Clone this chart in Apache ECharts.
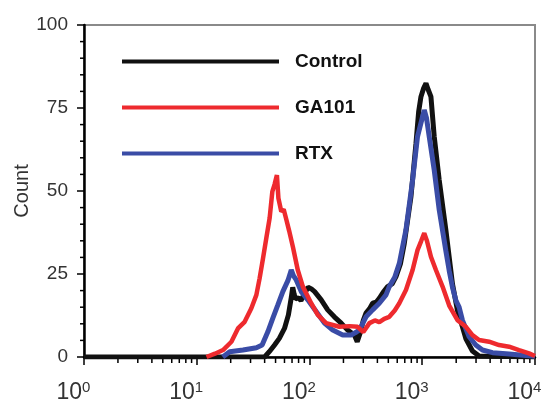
<!DOCTYPE html>
<html>
<head>
<meta charset="utf-8">
<script src="https://cdn.jsdelivr.net/npm/echarts@6/dist/echarts.min.js"></script>
<style>
html,body{margin:0;padding:0;background:#fff;}
#c{width:545px;height:408px;}
</style>
</head>
<body>
<div id="c"></div>
<script>
// ---- data ----
const seriesNames = ['Control', 'GA101', 'RTX'];

const controlX = [1, 40, 44, 49, 54, 60, 65, 69, 71, 73, 75, 80, 84, 90, 97, 104, 111, 127, 145, 166, 191, 218, 250, 265, 280, 300, 317, 340, 363, 390, 416, 450, 493, 540, 585, 640, 693, 794, 880, 930, 974, 1030, 1079, 1130, 1194, 1277, 1414, 1619, 1734, 1854, 2053, 2275, 2439, 2787, 3192, 10000];
const controlY = [0, 0, 1.6, 3.6, 5.6, 8.6, 12.7, 18, 21, 19, 17.5, 17.8, 17, 19, 21, 20.5, 19.7, 17.2, 14.2, 12.1, 10.2, 8.1, 6.6, 4.6, 7, 11, 13.2, 14.5, 16.2, 16.5, 17.7, 19.5, 21.2, 22, 24.2, 28, 34.2, 48.3, 64.4, 74, 78.4, 81, 82.4, 80.5, 78.4, 66.4, 53.3, 38.3, 30, 22, 14, 9, 5.5, 1.8, 0.3, 0];

const ga101X = [12.2, 14.5, 17.1, 20.3, 23.2, 26.6, 30.5, 33.8, 36.1, 38.7, 41.4, 44.3, 46.8, 49, 51.4, 53, 56.2, 59, 62.2, 66, 71.2, 78.7, 87.3, 103.5, 118.4, 140.5, 184, 226, 267, 300, 340, 380, 416, 460, 510, 570, 626, 717, 821, 908, 980, 1042, 1100, 1194, 1322, 1514, 1734, 2053, 2439, 2787, 3192, 3914, 4800, 5890, 7215, 8850, 10000];
const ga101Y = [0, 1, 2.1, 4.6, 8.6, 10.6, 14.7, 18.7, 23.7, 29.7, 35.8, 41.8, 49.8, 52, 54.8, 47.8, 43.8, 44.5, 41.5, 38, 33.2, 26.2, 21.2, 16.2, 12.7, 10.2, 9.1, 9.3, 9.1, 7.5, 10.2, 11, 10.5, 11.5, 12.1, 14, 16.2, 20.2, 26.2, 32.2, 35, 37.3, 35, 30.2, 26.2, 21.2, 15.5, 11.1, 9.1, 6.6, 5.1, 4.6, 3.6, 3.1, 2.1, 1.1, 0.3];

const rtxX = [17, 19.6, 25.7, 33.8, 38, 42.7, 47.3, 52.4, 58, 64.3, 68.9, 72, 76.3, 84.5, 96.6, 114.6, 135.8, 160.8, 197, 234, 277, 317, 363, 416, 477, 510, 570, 626, 717, 821, 908, 1000, 1042, 1090, 1153, 1277, 1414, 1619, 1734, 1854, 1990, 2123, 2275, 2606, 2985, 3420, 4200, 5900, 7800, 10000];
const rtxY = [0, 1.6, 2.1, 2.8, 3.6, 7.6, 11.7, 15.7, 19.7, 23, 26.2, 24.5, 23.2, 19.7, 17.2, 13.7, 10.2, 8.1, 6.6, 6.6, 8.1, 12.1, 14.2, 16.2, 18.7, 21.2, 24, 28.2, 38.3, 53.3, 66.4, 72, 74.4, 72, 66.4, 56.3, 44.3, 32, 26, 21, 17, 15, 11, 6.1, 3.6, 2.1, 1.3, 0.9, 0.5, 0.2];

// minor tick positions (axis values)
const yMinorTicks = [];
for (let v = 5; v < 100; v += 5) if (v % 25 !== 0) yMinorTicks.push(v);
const xMinorTicks = [];
for (let d = 0; d < 4; d++) for (let k = 2; k <= 9; k++) xMinorTicks.push(k * Math.pow(10, d));

function pairs(xs, ys) { return xs.map((x, i) => [x, ys[i]]); }

const chart = echarts.init(document.getElementById('c'), null, { renderer: 'canvas' });
const FONT = '"Liberation Sans", Arial, sans-serif';

function xTickItem(params, api) {
  const p = api.coord([api.value(0), 0]);
  return { type: 'line', silent: true, shape: { x1: p[0], y1: p[1], x2: p[0], y2: p[1] + 6 }, style: { stroke: '#000', lineWidth: 1.5 } };
}
function yTickItem(params, api) {
  const p = api.coord([1, api.value(0)]);
  return { type: 'line', silent: true, shape: { x1: p[0] - 4, y1: p[1], x2: p[0], y2: p[1] }, style: { stroke: '#000', lineWidth: 1.5 } };
}

const option = {
  animation: false,
  backgroundColor: '#fff',
  grid: { left: 84, right: 10, top: 25, bottom: 51, outerBoundsMode: 'none', containLabel: false, show: true, borderColor: '#8a8a8a', borderWidth: 2, backgroundColor: 'transparent' },
  legend: {
    data: seriesNames,
    orient: 'vertical',
    left: 122,
    top: 51,
    padding: 0,
    icon: 'rect',
    itemWidth: 157,
    itemHeight: 4,
    itemGap: 25,
    textStyle: { fontFamily: FONT, fontWeight: 'bold', fontSize: 19, color: '#111', padding: [0, 0, 0, 11], lineHeight: 21 },
    selectedMode: false
  },
  xAxis: {
    type: 'log', logBase: 10, min: 1, max: 10000,
    axisLine: { show: true, lineStyle: { color: '#000', width: 2.5 } },
    axisTick: { show: true, length: 8, lineStyle: { color: '#000', width: 1.5 } },
    splitLine: { show: false },
    axisLabel: {
      margin: 23, color: '#333', fontFamily: FONT,
      formatter: function (v) {
        const e = Math.round(Math.log10(v));
        return '{b|10}{s|' + e + '}{p| }';
      },
      rich: {
        b: { fontSize: 23, fontFamily: FONT, color: '#333', lineHeight: 24, verticalAlign: 'bottom' },
        s: { fontSize: 15, fontFamily: FONT, color: '#333', lineHeight: 15, verticalAlign: 'top' },
        p: { width: 21, fontSize: 14 }
      }
    }
  },
  yAxis: {
    type: 'value', min: 0, max: 100, interval: 25,
    name: 'Count', nameLocation: 'middle', nameGap: 52, nameMoveOverlap: false,
    nameTextStyle: { fontFamily: FONT, fontSize: 20, color: '#333' },
    axisLine: { show: true, lineStyle: { color: '#000', width: 2.5 } },
    axisTick: { show: true, length: 7, lineStyle: { color: '#000', width: 1.5 } },
    splitLine: { show: false },
    axisLabel: { margin: 16, color: '#333', fontFamily: FONT, fontSize: 19 }
  },
  series: [
    { name: 'Control', type: 'line', data: pairs(controlX, controlY), showSymbol: false, symbol: 'none', color: '#111', lineStyle: { width: 5, color: '#111' }, z: 3 },
    { name: 'RTX', type: 'line', data: pairs(rtxX, rtxY), showSymbol: false, symbol: 'none', color: '#3a4ca6', lineStyle: { width: 5, color: '#3a4ca6' }, z: 4 },
    { name: 'GA101', type: 'line', data: pairs(ga101X, ga101Y), showSymbol: false, symbol: 'none', color: '#ee2a2e', lineStyle: { width: 4.5, color: '#ee2a2e' }, z: 5 },
    { name: 'xMinor', type: 'custom', silent: true, clip: false, renderItem: xTickItem, data: xMinorTicks.map(v => [v]), encode: { x: 0 }, z: 1 },
    { name: 'yMinor', type: 'custom', silent: true, clip: false, renderItem: yTickItem, data: yMinorTicks.map(v => [v]), encode: { y: 0 }, z: 1 }
  ]
};
chart.setOption(option);
</script>
</body>
</html>
